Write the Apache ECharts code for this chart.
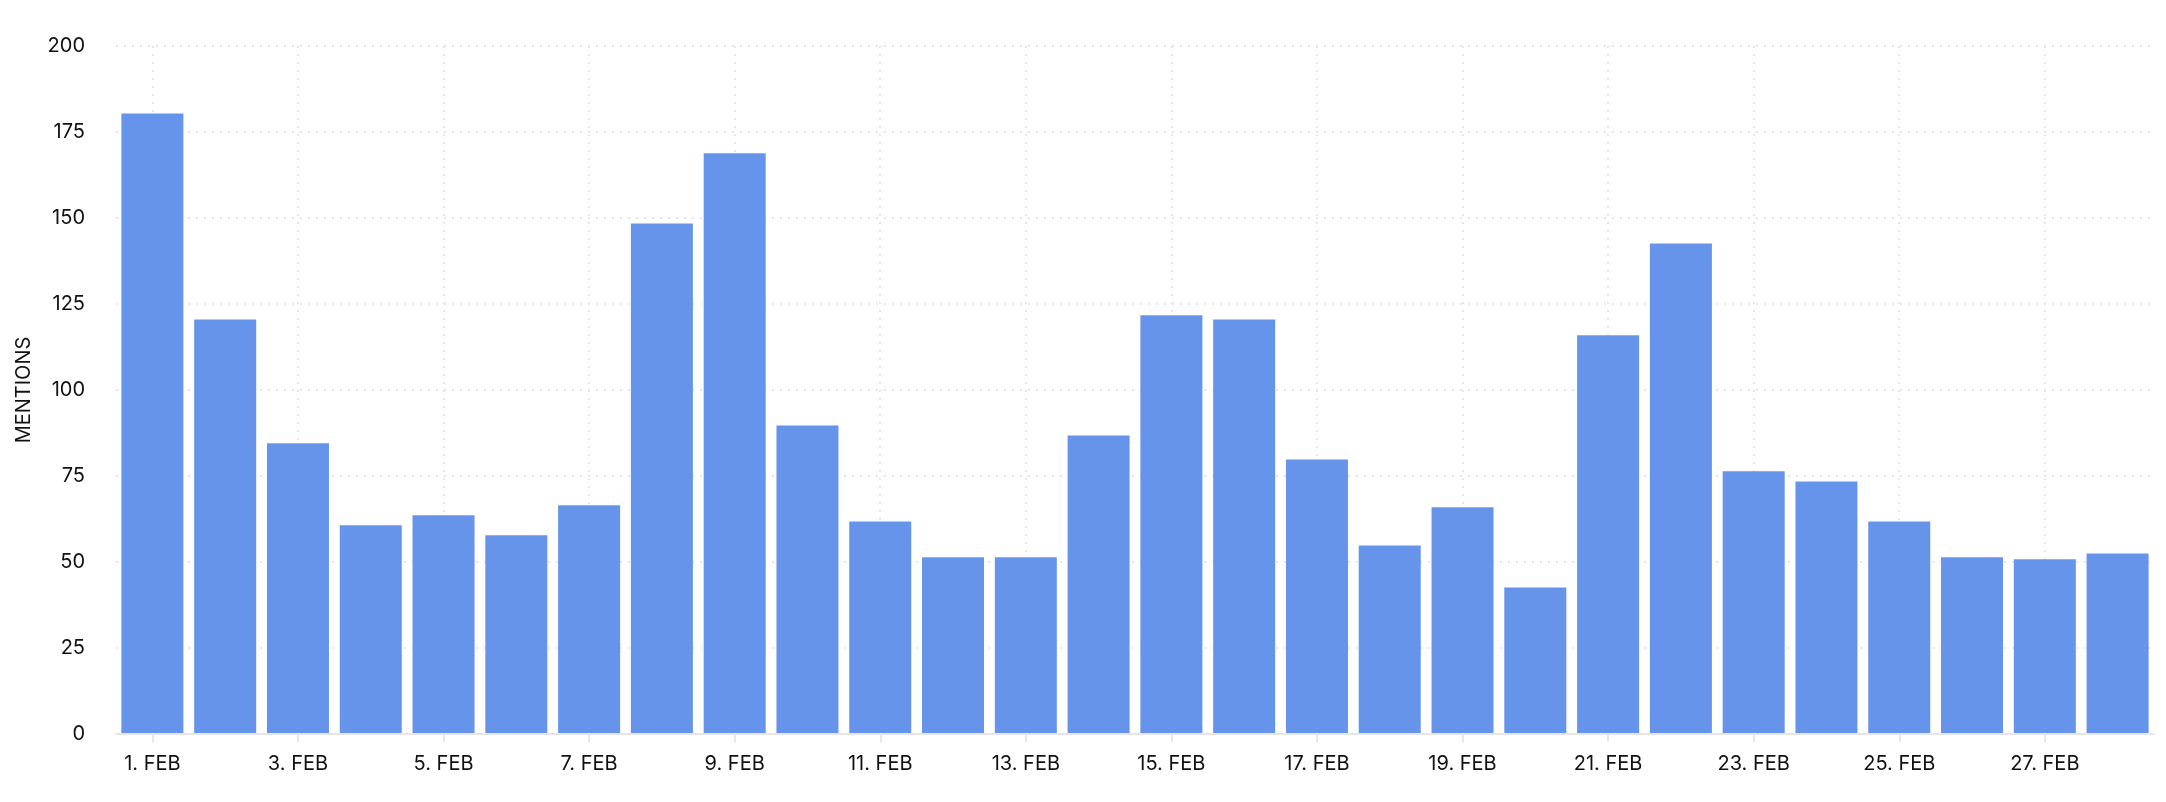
<!DOCTYPE html>
<html>
<head>
<meta charset="utf-8">
<script src="https://cdn.jsdelivr.net/npm/echarts@6/dist/echarts.min.js"></script>
<style>
  html, body { margin: 0; padding: 0; background: #ffffff; }
  #chart { width: 2166px; height: 802px; }
</style>
</head>
<body>
<div id="chart"></div>
<script>
const categories = ['1. FEB','2. FEB','3. FEB','4. FEB','5. FEB','6. FEB','7. FEB','8. FEB','9. FEB','10. FEB',
  '11. FEB','12. FEB','13. FEB','14. FEB','15. FEB','16. FEB','17. FEB','18. FEB','19. FEB','20. FEB',
  '21. FEB','22. FEB','23. FEB','24. FEB','25. FEB','26. FEB','27. FEB','28. FEB'];
const mentions = [180.4, 120.5, 84.5, 60.7, 63.6, 57.8, 66.5, 148.4, 168.8, 89.7,
  61.8, 51.4, 51.4, 86.8, 121.7, 120.5, 79.8, 54.8, 65.9, 42.6,
  115.9, 142.6, 76.4, 73.4, 61.8, 51.4, 50.8, 52.5];
const yTicks = { min: 0, max: 200, interval: 25 };
const yAxisName = 'MENTIONS';

const FONT = 'Inter, "Noto Sans", sans-serif';
const TEXT = '#111111';
const GRIDC = '#e6e6e6';

const plotLeft = 116, plotRight = 12, plotTop = 46, plotBottom = 68;
const plotWidth = 2166 - plotLeft - plotRight;
const halfBand = plotWidth / categories.length / 2;

const chart = echarts.init(document.getElementById('chart'), null, { renderer: 'canvas' });
chart.setOption({
  animation: false,
  backgroundColor: '#ffffff',
  textStyle: { fontFamily: FONT },
  grid: [
    { left: plotLeft, right: plotRight, top: plotTop, bottom: plotBottom, containLabel: false },
    { left: plotLeft + halfBand, right: plotRight + halfBand, top: plotTop, bottom: plotBottom, containLabel: false }
  ],
  xAxis: [
    {
      type: 'category',
      gridIndex: 0,
      data: categories,
      boundaryGap: true,
      axisLine: { show: true, lineStyle: { color: GRIDC, width: 2 } },
      axisTick: { show: true, alignWithLabel: true, interval: 1, length: 8, lineStyle: { color: GRIDC, width: 2 } },
      axisLabel: { interval: 1, color: TEXT, fontSize: 20, fontFamily: FONT, margin: 20 },
      splitLine: { show: false },
      z: 3
    },
    {
      type: 'category',
      gridIndex: 1,
      data: categories,
      boundaryGap: false,
      axisLine: { show: false },
      axisTick: { show: false },
      axisLabel: { show: false },
      splitLine: { show: true, interval: 1, lineStyle: { color: GRIDC, width: 2, type: [2, 6] } }
    }
  ],
  yAxis: [
    {
      type: 'value',
      gridIndex: 0,
      min: yTicks.min,
      max: yTicks.max,
      interval: yTicks.interval,
      name: yAxisName,
      nameLocation: 'middle',
      nameGap: 82,
      nameRotate: 90,
      nameTextStyle: { color: TEXT, fontSize: 20, fontFamily: FONT },
      axisLine: { show: false },
      axisTick: { show: false },
      axisLabel: { color: TEXT, fontSize: 20, fontFamily: FONT, margin: 31, padding: [5, 0, 0, 0] },
      splitLine: { show: true, lineStyle: { color: GRIDC, width: 2, type: [2, 6] } }
    },
    {
      type: 'value',
      gridIndex: 1,
      min: yTicks.min,
      max: yTicks.max,
      interval: yTicks.interval,
      axisLine: { show: false },
      axisTick: { show: false },
      axisLabel: { show: false },
      splitLine: { show: false }
    }
  ],
  series: [
    {
      type: 'bar',
      xAxisIndex: 0,
      yAxisIndex: 0,
      data: mentions,
      barCategoryGap: '14.8%',
      itemStyle: { color: '#6694EA' },
      z: 2
    }
  ]
});
</script>
</body>
</html>
